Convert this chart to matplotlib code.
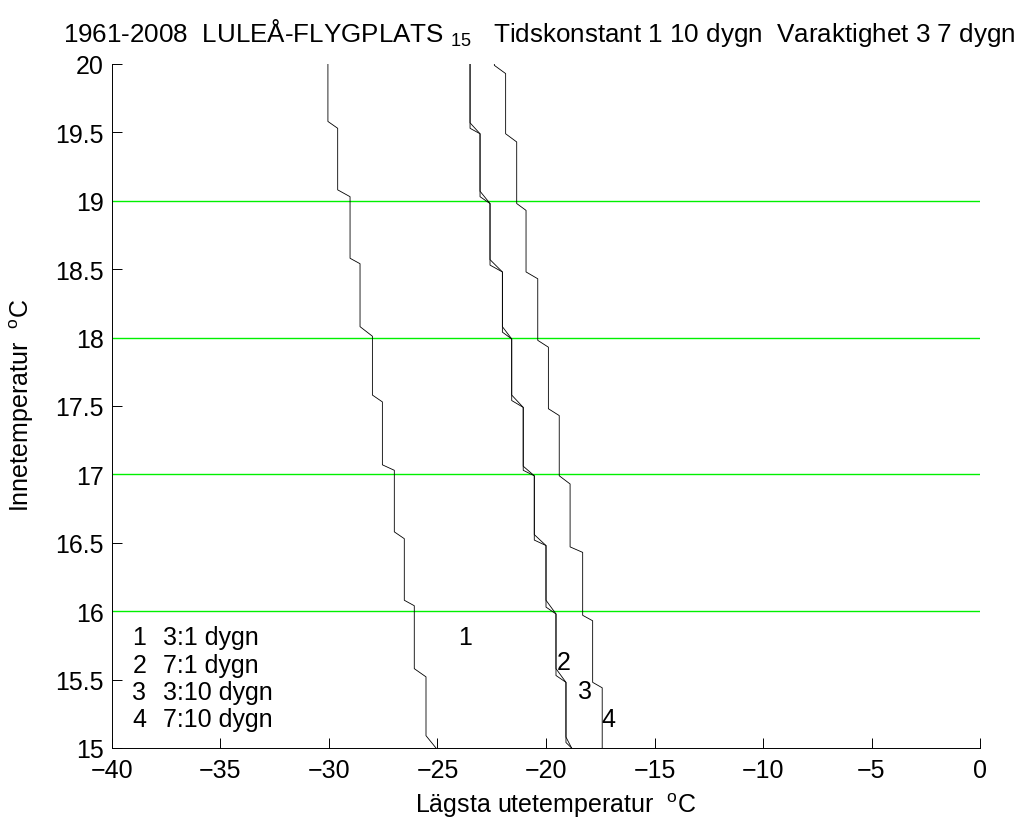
import numpy as np
import matplotlib
matplotlib.use("Agg")
import matplotlib.pyplot as plt

plt.rcParams['font.family'] = ['Liberation Sans', 'DejaVu Sans']
plt.rcParams['mathtext.fontset'] = 'custom'
plt.rcParams['mathtext.rm'] = 'Liberation Sans'
plt.rcParams['mathtext.default'] = 'regular'

# plateau x-values (top to bottom) and transitions (y start, y end)
levels_1 = [-30.05, -29.6, -29.03, -28.57, -28.0, -27.54, -26.99, -26.53, -26.07, -25.53, -25.07]
steps_1 = [(19.58, 19.53), (19.08, 19.03), (18.58, 18.54), (18.08, 18.01), (17.58, 17.53),
           (17.07, 17.03), (16.58, 16.53), (16.08, 16.04), (15.58, 15.52), (15.09, 15.0)]

levels_2 = [-23.5, -23.04, -22.58, -22.01, -21.58, -21.05, -20.54, -20.0, -19.54, -19.08, -18.82]
steps_2 = [(19.57, 19.49), (19.07, 18.98), (18.57, 18.48), (18.08, 17.99), (17.58, 17.49),
           (17.06, 16.99), (16.56, 16.48), (16.08, 15.98), (15.58, 15.48), (15.08, 15.0)]

levels_3 = [-23.5, -23.04, -22.58, -22.01, -21.58, -21.05, -20.54, -20.0, -19.54, -19.08, -18.82]
steps_3 = [(19.53, 19.49), (19.03, 18.98), (18.53, 18.48), (18.04, 17.99), (17.54, 17.49),
           (17.03, 16.99), (16.52, 16.48), (16.03, 15.98), (15.53, 15.48), (15.04, 15.0)]

levels_4 = [-22.38, -21.86, -21.35, -20.92, -20.38, -19.89, -19.39, -18.89, -18.31, -17.85, -17.41]
steps_4 = [(19.99, 19.93), (19.49, 19.43), (18.98, 18.93), (18.48, 18.43), (17.98, 17.93),
           (17.48, 17.43), (16.99, 16.93), (16.47, 16.43), (15.97, 15.93), (15.48, 15.44)]

curves = [(levels_1, steps_1), (levels_2, steps_2), (levels_3, steps_3), (levels_4, steps_4)]

grid_y = [16, 17, 18, 19]

legend_rows = ["3:1 dygn", "7:1 dygn", "3:10 dygn", "7:10 dygn"]
legend_y = [15.81, 15.61, 15.41, 15.21]
label_x = [-23.73, -19.2, -18.2, -17.13]
label_y = [15.81, 15.63, 15.42, 15.21]

FS = 18


def step_path(levels, steps, top=20.0, bottom=15.0):
    xs = [levels[0]]
    ys = [top]
    for k, (y0, y1) in enumerate(steps):
        xs += [levels[k], levels[k + 1]]
        ys += [y0, y1]
    if ys[-1] > bottom:
        xs.append(levels[-1])
        ys.append(bottom)
    return xs, ys


fig = plt.figure(figsize=(10.27, 8.28), dpi=100)
ax = fig.add_axes([112 / 1027, 79 / 828, 868 / 1027, 684 / 828])

for y in grid_y:
    ax.plot([-40, 0], [y, y], color='#00f000', lw=1.0)

for levels, steps in curves:
    xs, ys = step_path(levels, steps)
    ax.plot(xs, ys, color='black', lw=0.6)

for i, txt in enumerate(legend_rows):
    ax.text(-39.06, legend_y[i], str(i + 1), fontsize=FS, va='center', ha='left')
    ax.text(-37.66, legend_y[i], txt, fontsize=FS, va='center', ha='left')
    ax.text(label_x[i], label_y[i], str(i + 1), fontsize=FS, va='center', ha='center')

ax.set_xlim(-40, 0)
ax.set_ylim(15, 20)
ax.set_xticks(np.arange(-40, 1, 5))
ax.set_yticks(np.arange(15, 20.01, 0.5))
ax.set_yticklabels(['15', '15.5', '16', '16.5', '17', '17.5', '18', '18.5', '19', '19.5', '20'])
ax.tick_params(direction='in', length=7, width=0.7, labelsize=FS)
ax.tick_params(axis='x', pad=7)
ax.tick_params(axis='y', pad=6)
ax.spines['top'].set_visible(False)
ax.spines['right'].set_visible(False)
ax.spines['left'].set_linewidth(0.7)
ax.spines['bottom'].set_linewidth(0.7)

fig.text(539 / 1027, 1 - 42 / 828,
         '1961-2008  LULEÅ-FLYGPLATS ${}_{15}$   Tidskonstant 1 10 dygn  Varaktighet 3 7 dygn',
         fontsize=18.7, ha='center', va='baseline')
fig.text(556 / 1027, 1 - 806 / 828, 'Lägsta utetemperatur  $^{o}$C', fontsize=FS,
         ha='center', va='center')
fig.text(22 / 1027, 1 - 405 / 828, 'Innetemperatur  $^{o}$C', fontsize=FS,
         ha='center', va='center', rotation=90)

fig.savefig('out.png', dpi=100)
